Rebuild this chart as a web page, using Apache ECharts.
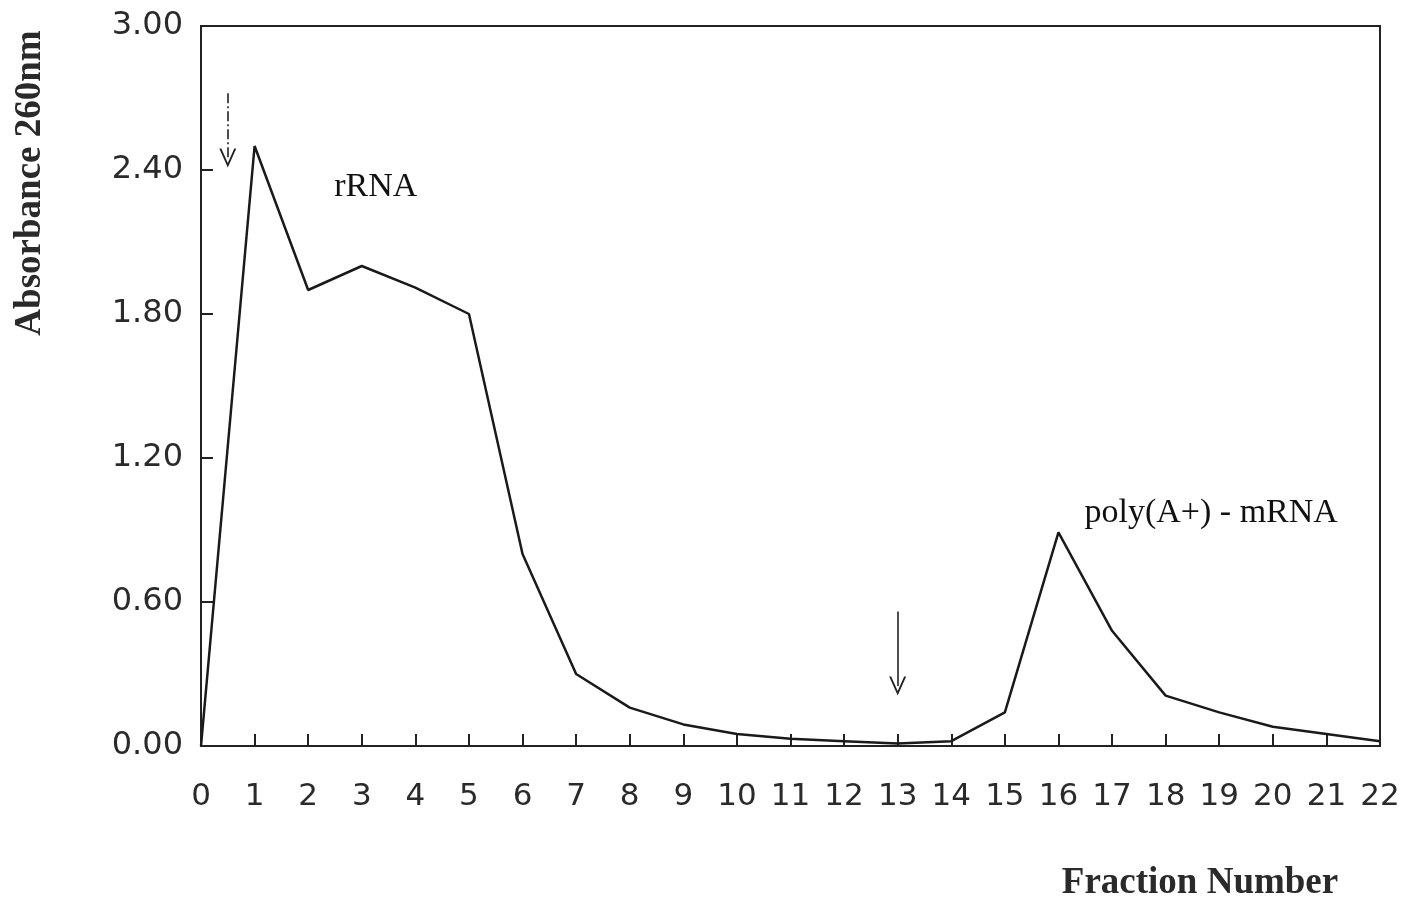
<!DOCTYPE html>
<html>
<head>
<meta charset="utf-8">
<script src="https://cdn.jsdelivr.net/npm/echarts@6/dist/echarts.min.js"></script>
<style>
html,body{margin:0;padding:0;background:#fff;}
#chart{width:1405px;height:897px;}
</style>
</head>
<body>
<div id="chart"></div>
<script>
const fractions = [0,1,2,3,4,5,6,7,8,9,10,11,12,13,14,15,16,17,18,19,20,21,22];
const absorbance = [0,2.50,1.90,2.00,1.91,1.80,0.80,0.30,0.16,0.09,0.05,0.03,0.02,0.01,0.02,0.14,0.89,0.48,0.21,0.14,0.08,0.05,0.02];
const arrow1 = [[0.5,2.72],[0.5,2.45]];
const arrow2 = [[13,0.56],[13,0.25]];
const peakLabels = [{name:'rRNA', x:3.26, y:2.33}, {name:'poly(A+) - mRNA', x:18.85, y:0.97}];

const chart = echarts.init(document.getElementById('chart'));
const serif = '"Liberation Serif", "DejaVu Serif", serif';
const sans = '"DejaVu Sans", "Liberation Sans", sans-serif';
const vHead = 'path://M0,10 L5,0 L10,10 L8.8,10 L5,2.4 L1.2,10 Z';

chart.setOption({
  backgroundColor:'#fff',
  animation:false,
  grid:{left:201, right:25, top:26, bottom:151, show:true, borderColor:'#222', borderWidth:2},
  graphic:[
    {type:'text', x:30, y:183, rotation:Math.PI/2, style:{text:'Absorbance 260nm', fontFamily:serif, fontWeight:'bold', fontSize:37, fill:'#2a2a2a', align:'center', verticalAlign:'middle'}},
    {type:'text', x:1200, y:883, style:{text:'Fraction Number', fontFamily:serif, fontWeight:'bold', fontSize:37, fill:'#2a2a2a', align:'center', verticalAlign:'middle'}}
  ],
  xAxis:{
    type:'value', min:0, max:22, interval:1,
    axisLine:{lineStyle:{color:'#222', width:2}},
    axisTick:{inside:true, length:12, lineStyle:{color:'#222', width:2}},
    splitLine:{show:false},
    axisLabel:{margin:35, fontFamily:sans, fontSize:31, color:'#2a2a2a', showMinLabel:true, showMaxLabel:true}
  },
  yAxis:{
    type:'value', min:0, max:3, interval:0.6,
    axisLine:{lineStyle:{color:'#222', width:2}},
    axisTick:{inside:true, length:12, lineStyle:{color:'#222', width:2}},
    splitLine:{show:false},
    axisLabel:{margin:18, fontFamily:sans, fontSize:32, color:'#2a2a2a', formatter:v=>v.toFixed(2)}
  },
  series:[
    {
      type:'line',
      data:fractions.map((f,i)=>[f,absorbance[i]]),
      symbol:'none',
      lineStyle:{color:'#1a1a1a', width:2.5},
      markLine:{
        silent:true,
        symbol:['none',vHead],
        symbolSize:[17,19],
        label:{show:false},
        itemStyle:{color:'#222'},
        lineStyle:{color:'#222', width:1.6, type:'solid'},
        data:[
          [{coord:arrow1[0], lineStyle:{type:[10,3,2,3]}},{coord:arrow1[1]}],
          [{coord:arrow2[0]},{coord:arrow2[1]}]
        ]
      }
    },
    {
      type:'scatter',
      data:peakLabels.map(p=>({name:p.name, value:[p.x,p.y]})),
      symbolSize:0,
      silent:true,
      label:{show:true, position:'inside', formatter:'{b}', fontFamily:serif, fontSize:34, color:'#111', opacity:1}
    }
  ]
});
</script>
</body>
</html>
